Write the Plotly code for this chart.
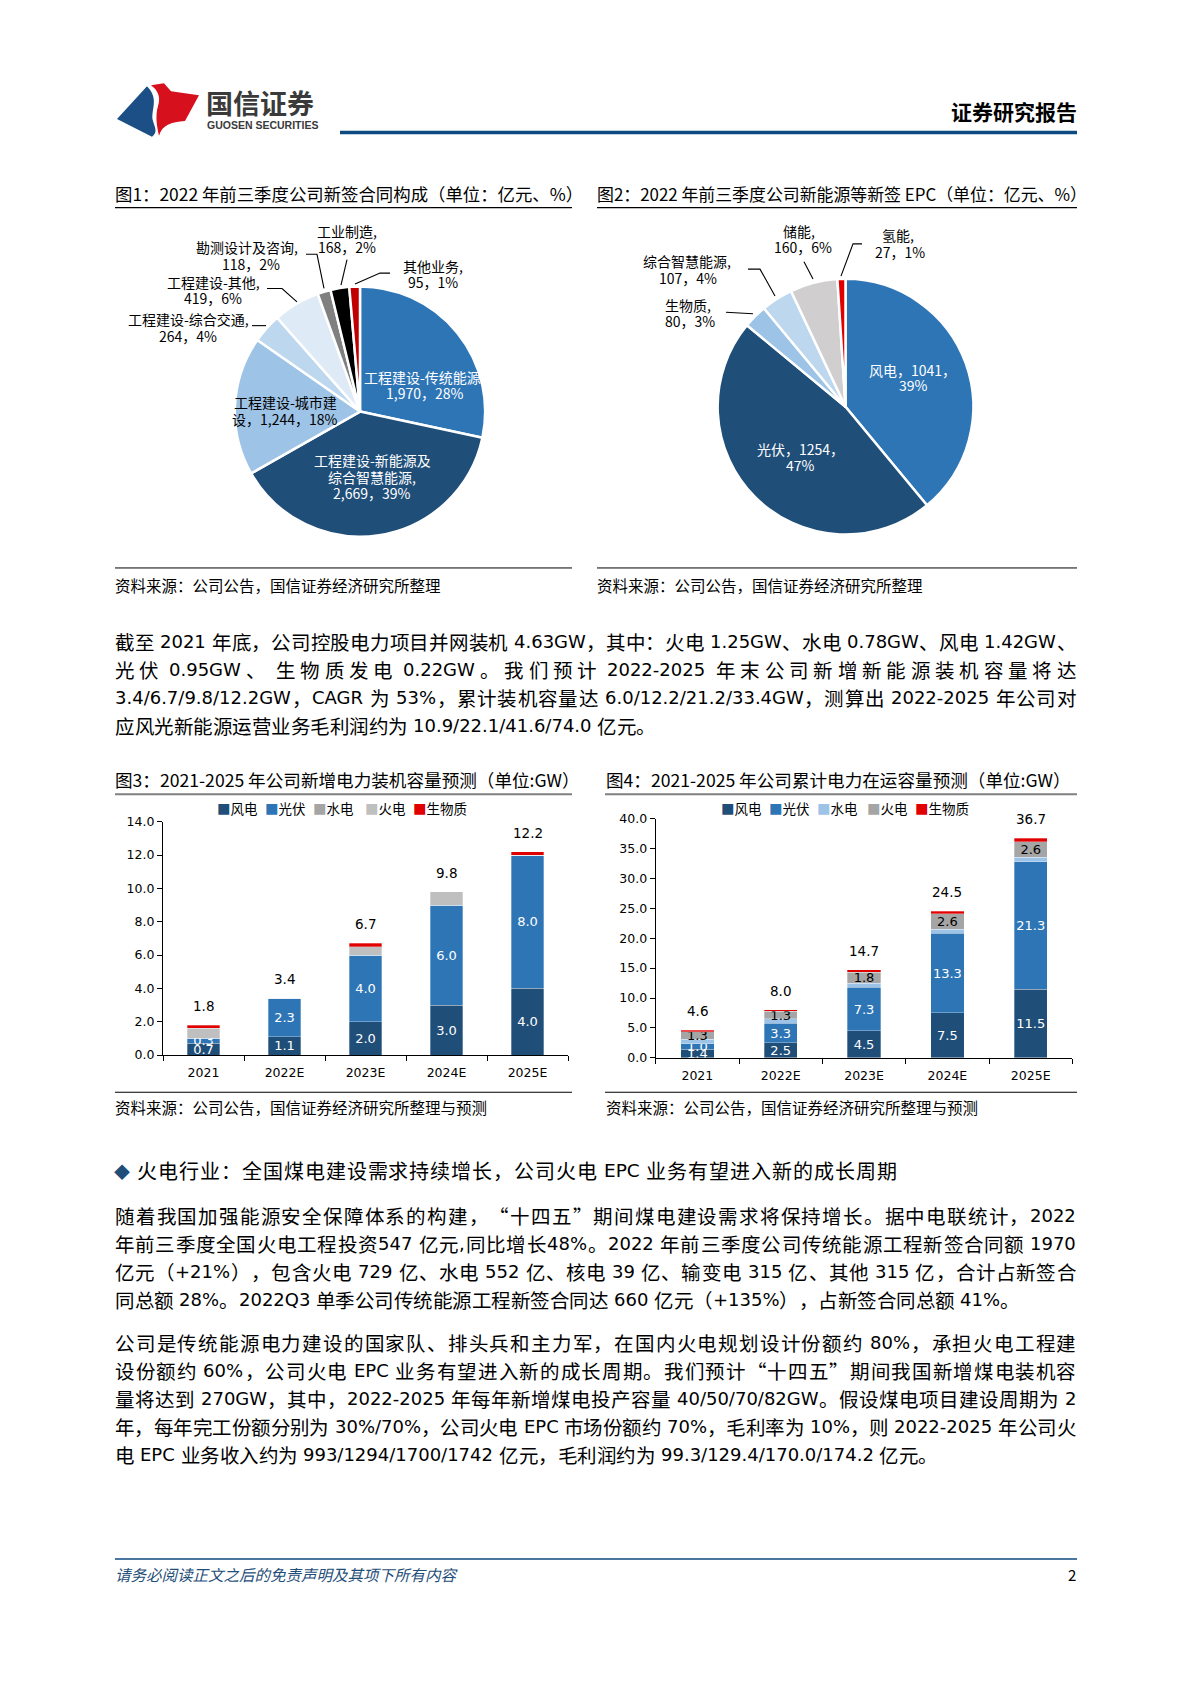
import plotly.graph_objects as go

W, H = 1190, 1683
FONT = "Noto Sans CJK SC"
LAT = "DejaVu Sans"

# ---------------- data ----------------
pie1_labels = ["工程建设-传统能源", "工程建设-新能源及综合智慧能源", "工程建设-城市建设",
               "工程建设-综合交通", "工程建设-其他", "勘测设计及咨询", "工业制造", "其他业务"]
pie1_values = [1970, 2669, 1244, 264, 419, 118, 168, 95]
pie1_pcts = [28, 39, 18, 4, 6, 2, 2, 1]
pie1_colors = ["#2e75b6", "#1f4e79", "#9dc3e6", "#bdd7ee", "#deebf7", "#808080", "#000000", "#c00000"]

pie2_labels = ["风电", "光伏", "生物质", "综合智慧能源", "储能", "氢能"]
pie2_values = [1041, 1254, 80, 107, 160, 27]
pie2_pcts = [39, 47, 3, 4, 6, 1]
pie2_colors = ["#2e75b6", "#1f4e79", "#9dc3e6", "#bdd7ee", "#d0cece", "#e00000"]

years = ["2021", "2022E", "2023E", "2024E", "2025E"]
series_names = ["风电", "光伏", "水电", "火电", "生物质"]

new_wind = [0.7, 1.1, 2.0, 3.0, 4.0]
new_pv = [0.3, 2.3, 4.0, 6.0, 8.0]
new_hydro = [0.0, 0.0, 0.0, 0.0, 0.0]
new_thermal = [0.6, 0.0, 0.5, 0.8, 0.0]
new_bio = [0.2, 0.0, 0.2, 0.0, 0.2]
new_total = [1.8, 3.4, 6.7, 9.8, 12.2]

cum_wind = [1.4, 2.5, 4.5, 7.5, 11.5]
cum_pv = [1.0, 3.3, 7.3, 13.3, 21.3]
cum_hydro = [0.7, 0.7, 0.7, 0.7, 0.7]
cum_thermal = [1.3, 1.3, 1.8, 2.6, 2.6]
cum_bio = [0.2, 0.2, 0.4, 0.4, 0.6]
cum_total = [4.6, 8.0, 14.7, 24.5, 36.7]

para1 = [
    "截至 2021 年底，公司控股电力项目并网装机 4.63GW，其中：火电 1.25GW、水电 0.78GW、风电 1.42GW、",
    "光伏 0.95GW、 生物质发电 0.22GW。我们预计 2022-2025 年末公司新增新能源装机容量将达",
    "3.4/6.7/9.8/12.2GW，CAGR 为 53%，累计装机容量达 6.0/12.2/21.2/33.4GW，测算出 2022-2025 年公司对",
    "应风光新能源运营业务毛利润约为 10.9/22.1/41.6/74.0 亿元。",
]
heading = "火电行业：全国煤电建设需求持续增长，公司火电 EPC 业务有望进入新的成长周期"
para2 = [
    "随着我国加强能源安全保障体系的构建，“十四五”期间煤电建设需求将保持增长。据中电联统计，2022",
    "年前三季度全国火电工程投资547 亿元,同比增长48%。2022 年前三季度公司传统能源工程新签合同额 1970",
    "亿元（+21%），包含火电 729 亿、水电 552 亿、核电 39 亿、输变电 315 亿、其他 315 亿，合计占新签合",
    "同总额 28%。2022Q3 单季公司传统能源工程新签合同达 660 亿元（+135%），占新签合同总额 41%。",
]
para3 = [
    "公司是传统能源电力建设的国家队、排头兵和主力军，在国内火电规划设计份额约 80%，承担火电工程建",
    "设份额约 60%，公司火电 EPC 业务有望进入新的成长周期。我们预计“十四五”期间我国新增煤电装机容",
    "量将达到 270GW，其中，2022-2025 年每年新增煤电投产容量 40/50/70/82GW。假设煤电项目建设周期为 2",
    "年，每年完工份额分别为 30%/70%，公司火电 EPC 市场份额约 70%，毛利率为 10%，则 2022-2025 年公司火",
    "电 EPC 业务收入约为 993/1294/1700/1742 亿元，毛利润约为 99.3/129.4/170.0/174.2 亿元。",
]

# ---------------- helpers ----------------
def px(x):
    return x / W


def py(y):
    return 1 - y / H


annotations = []
shapes = []


def txt(x, y, s, size=13, color="#000", xanchor="left", family=FONT, weight="normal"):
    annotations.append(dict(
        x=px(x), y=py(y), xref="paper", yref="paper", text=s, showarrow=False,
        xanchor=xanchor, yanchor="middle", align="center" if xanchor == "center" else xanchor,
        borderpad=0, borderwidth=0,
        font=dict(size=size, color=color, family=family, weight=weight)))


def hline(x0, x1, y, color="#000", width=1.0):
    shapes.append(dict(type="line", xref="paper", yref="paper", x0=px(x0), x1=px(x1),
                       y0=py(y), y1=py(y), line=dict(color=color, width=width)))


def P(x, y):
    return f"{px(x):.5f},{py(y):.5f}"


def polyline(points, color="#000", width=1.1):
    path = "M " + " L ".join(P(a, b) for a, b in points)
    shapes.append(dict(type="path", path=path, xref="paper", yref="paper",
                       line=dict(color=color, width=width)))


def fillpath(d, color):
    shapes.append(dict(type="path", path=d, xref="paper", yref="paper",
                       fillcolor=color, line=dict(width=0)))


# approximate advance widths (em) of DejaVu Sans glyphs
LAT_W = {".": 0.318, ",": 0.318, "/": 0.337, "-": 0.361, "%": 0.95, "+": 0.838, "(": 0.39, ")": 0.39,
         "G": 0.776, "W": 0.989, "C": 0.698, "A": 0.684, "R": 0.695, "E": 0.632, "P": 0.603, "Q": 0.787}
SPACE_W = 0.318


def tokens_of(line):
    toks = []
    i, pend = 0, 0.0
    while i < len(line):
        ch = line[i]
        if ch == " ":
            pend += SPACE_W
            i += 1
            continue
        if ord(ch) < 128:
            j = i
            while j < len(line) and ord(line[j]) < 128 and line[j] != " ":
                j += 1
            run = line[i:j]
            w = sum(0.636 if c.isdigit() else LAT_W.get(c, 0.62) for c in run)
            toks.append((run, True, w, pend))
            i = j
        else:
            toks.append((ch, False, 1.0, pend))
            i += 1
        pend = 0.0
    return toks


def text_line(x0, y, line, fs=19.5, fl=18, target=None, color="#000"):
    toks = tokens_of(line)
    nat = sum((w * fl if lat else fs) + sp * fl for _, lat, w, sp in toks)
    gap = 0.0
    if target is not None and len(toks) > 1:
        gap = (target - nat) / (len(toks) - 1)
    x = x0
    for s, lat, w, sp in toks:
        x += sp * fl
        txt(x, y, s, size=fl if lat else fs, family=LAT if lat else FONT, color=color)
        x += (w * fl if lat else fs) + gap


fig = go.Figure()

# ---------------- header ----------------
fillpath(f"M {P(117,112)} L {P(147,79)} C {P(160,92)} {P(150,104)} {P(153,114)} "
         f"C {P(155,121)} {P(158,125)} {P(152,130)} Z", "#1b4f86")
fillpath(f"M {P(151,78)} L {P(164,76)} L {P(171,84)} L {P(199,88)} L {P(185,114)} "
         f"C {P(171,115)} {P(162,118)} {P(159,129)} C {P(157,120)} {P(155,110)} {P(158,99)} "
         f"C {P(161,90)} {P(158,83)} {P(151,78)} Z", "#d7101e")
txt(206, 95, "国信证券", size=27, color="#3a3a3a", weight="bold")
txt(207, 118, "GUOSEN SECURITIES", size=10.5, color="#3a3a3a", family="Liberation Sans", weight="bold")
txt(1077, 104, "证券研究报告", size=21, color="#000", xanchor="right", weight="bold")
hline(340, 1077, 125.5, color="#0d4a80", width=3.5)

# ---------------- figure titles (pies) ----------------
txt(115, 187.5, "图1：2022 年前三季度公司新签合同构成（单位：亿元、%）", size=17.4)
hline(115, 572, 201.5, width=1.3)
txt(597, 187.5, "图2：2022 年前三季度公司新能源等新签 EPC（单位：亿元、%）", size=16.9)
hline(597, 1077, 201.5, width=1.3)

# ---------------- pies ----------------
c1x, c1y, r1 = 360.0, 407.2, 126.3
fig.add_trace(go.Pie(
    labels=pie1_labels, values=pie1_values, sort=False, direction="clockwise", rotation=0,
    textinfo="none", hoverinfo="label+value", showlegend=False,
    marker=dict(colors=pie1_colors, line=dict(color="white", width=2.5)),
    domain=dict(x=[px(c1x - r1), px(c1x + r1)], y=[py(c1y + r1), py(c1y - r1)])))

c2x, c2y, r2 = 845.5, 402.3, 129.0
fig.add_trace(go.Pie(
    labels=pie2_labels, values=pie2_values, sort=False, direction="clockwise", rotation=0,
    textinfo="none", hoverinfo="label+value", showlegend=False,
    marker=dict(colors=pie2_colors, line=dict(color="white", width=2.5)),
    domain=dict(x=[px(c2x - r2), px(c2x + r2)], y=[py(c2y + r2), py(c2y - r2)])))


def v1(i):
    return f"{pie1_values[i]:,}，{pie1_pcts[i]}%"


def v2(i):
    return f"{pie2_values[i]}，{pie2_pcts[i]}%"


LF = 14
# pie 1 inside labels
txt(424, 372, pie1_labels[0] + ",", size=LF, color="white", xanchor="center")
txt(425, 388, v1(0), size=LF, color="white", xanchor="center")
txt(285, 398, pie1_labels[2][:8], size=LF, color="#000", xanchor="center")
txt(285, 415, pie1_labels[2][8:] + "，" + v1(2), size=LF, color="#000", xanchor="center")
txt(372, 456.5, pie1_labels[1][:9], size=LF, color="white", xanchor="center")
txt(372, 473, pie1_labels[1][9:] + ",", size=LF, color="white", xanchor="center")
txt(372, 489, v1(1), size=LF, color="white", xanchor="center")
# pie 1 outside labels
txt(347, 225.5, pie1_labels[6] + ",", size=LF, xanchor="center")
txt(347, 241.5, v1(6), size=LF, xanchor="center")
txt(247, 241.5, pie1_labels[5] + ",", size=LF, xanchor="center")
txt(251, 258.5, v1(5), size=LF, xanchor="center")
txt(213, 276.5, pie1_labels[4] + ",", size=LF, xanchor="center")
txt(213, 292.5, v1(4), size=LF, xanchor="center")
txt(188, 314, pie1_labels[3] + ",", size=LF, xanchor="center")
txt(188, 330.5, v1(3), size=LF, xanchor="center")
txt(433, 260, pie1_labels[7] + ",", size=LF, xanchor="center")
txt(433, 276.5, v1(7), size=LF, xanchor="center")
polyline([(306, 248.5), (317, 248.5), (324, 283)])
polyline([(347, 254), (341, 279.5)])
polyline([(390, 267.5), (380, 267.5), (355, 278.5)])
polyline([(267, 283), (282, 283), (297, 296.5)])
polyline([(252, 320.5), (266, 320.5)])

# pie 2 inside labels
txt(912, 365.5, pie2_labels[0] + "，" + str(pie2_values[0]) + "，", size=LF, color="white", xanchor="center")
txt(913, 380.5, f"{pie2_pcts[0]}%", size=LF, color="white", xanchor="center")
txt(800, 444.5, pie2_labels[1] + "，" + str(pie2_values[1]) + "，", size=LF, color="white", xanchor="center")
txt(800, 461, f"{pie2_pcts[1]}%", size=LF, color="white", xanchor="center")
# pie 2 outside labels
txt(799, 225.5, pie2_labels[4] + ",", size=LF, xanchor="center")
txt(803, 241.5, v2(4), size=LF, xanchor="center")
txt(898, 229.5, pie2_labels[5] + ",", size=LF, xanchor="center")
txt(900, 246, v2(5), size=LF, xanchor="center")
txt(687, 255.5, pie2_labels[3] + ",", size=LF, xanchor="center")
txt(688, 272, v2(3), size=LF, xanchor="center")
txt(688, 300, pie2_labels[2] + ",", size=LF, xanchor="center")
txt(690, 315.5, v2(2), size=LF, xanchor="center")
polyline([(804, 256), (813, 273.5)])
polyline([(862, 238), (853, 238), (841, 270.5)])
polyline([(748, 263.5), (760, 263.5), (775, 290.5)])
polyline([(726, 307), (753, 308.5)])

hline(115, 572, 565, width=1.0)
hline(597, 1077, 565, width=1.0)
txt(115, 582.5, "资料来源：公司公告，国信证券经济研究所整理", size=15.5)
txt(597, 582.5, "资料来源：公司公告，国信证券经济研究所整理", size=15.5)

# ---------------- paragraph 1 ----------------
LINE_H = 28.2
TARGET = 1076 - 115
for i, s in enumerate(para1):
    text_line(115, 639 + i * LINE_H, s, target=TARGET if i < len(para1) - 1 else None)

# ---------------- bar charts ----------------
txt(115, 778, "图3：2021-2025 年公司新增电力装机容量预测（单位:GW）", size=17.6)
hline(115, 572, 793.2, color="#808080", width=2)
txt(606, 778, "图4：2021-2025 年公司累计电力在运容量预测（单位:GW）", size=17.6)
hline(605, 1077, 793.2, color="#808080", width=2)

colors3 = ["#1f4e79", "#2e75b6", "#a5a5a5", "#bfbfbf", "#e00000"]
colors4 = ["#1f4e79", "#2e75b6", "#9dc3e6", "#a5a5a5", "#e00000"]
show3 = [True, True, False, False, False]
show4 = [True, True, False, True, False]
tcol4 = ["white", "white", "white", "#000", "white"]
BAR_LINE = dict(color="rgba(255,255,255,0.5)", width=0.6)

for name, vals, col, show in zip(series_names, [new_wind, new_pv, new_hydro, new_thermal, new_bio],
                                 colors3, show3):
    fig.add_trace(go.Bar(
        x=years, y=vals, name=name, marker=dict(color=col, line=BAR_LINE),
        xaxis="x", yaxis="y", showlegend=False,
        texttemplate="%{y:.1f}" if show else None, textposition="inside" if show else "none",
        insidetextanchor="middle", textangle=0,
        textfont=dict(color="white", size=13, family=LAT)))

for name, vals, col, show, tc in zip(series_names, [cum_wind, cum_pv, cum_hydro, cum_thermal, cum_bio],
                                     colors4, show4, tcol4):
    fig.add_trace(go.Bar(
        x=years, y=vals, name=name, marker=dict(color=col, line=BAR_LINE),
        xaxis="x2", yaxis="y2", showlegend=False,
        texttemplate="%{y:.1f}" if show else None, textposition="inside" if show else "none",
        insidetextanchor="middle", textangle=0,
        textfont=dict(color=tc, size=13, family=LAT)))

# totals above stacks (x given as category index)
for i, t in enumerate(new_total):
    annotations.append(dict(x=i, y=t, xref="x", yref="y", text=f"{t:.1f}", showarrow=False,
                            yshift=19, font=dict(size=13.5, color="#000", family=LAT)))
for i, t in enumerate(cum_total):
    annotations.append(dict(x=i, y=t, xref="x2", yref="y2", text=f"{t:.1f}", showarrow=False,
                            yshift=19, font=dict(size=13.5, color="#000", family=LAT)))

# legends
leg3_x = [216.7, 265, 313, 365, 413.3]
leg4_x = [721, 769.3, 817.3, 867.3, 914.6]
for xs, cols in ((leg3_x, colors3), (leg4_x, colors4)):
    for x, n, c in zip(xs, series_names, cols):
        txt(x, 807.5, f"<span style='color:{c}'>■</span>{n}", size=13.5)

axis_common = dict(showline=True, linecolor="#000", linewidth=1.2, ticks="outside", ticklen=5,
                   tickcolor="#000", showgrid=False, zeroline=False, fixedrange=True,
                   tickfont=dict(size=12.5, color="#000", family=LAT))

fig.update_layout(
    xaxis=dict(domain=[px(163), px(568)], anchor="y", type="category", tickson="boundaries",
               range=[-0.5, 4.5], ticklabelstandoff=6, **axis_common),
    yaxis=dict(domain=[py(1056.5), py(821)], anchor="x", range=[0, 14], dtick=2, tickformat=".1f",
               **axis_common),
    xaxis2=dict(domain=[px(655.7), px(1072.4)], anchor="y2", type="category", tickson="boundaries",
                range=[-0.5, 4.5], ticklabelstandoff=6, **axis_common),
    yaxis2=dict(domain=[py(1059.3), py(817.8)], anchor="x2", range=[0, 40], dtick=5, tickformat=".1f",
                **axis_common),
)

hline(115, 572, 1094, width=1.2)
hline(605, 1077, 1094, width=1.2)
txt(115, 1109, "资料来源：公司公告，国信证券经济研究所整理与预测", size=15.5)
txt(606, 1109, "资料来源：公司公告，国信证券经济研究所整理与预测", size=15.5)

# ---------------- heading & paragraphs ----------------
txt(114, 1173, "◆", size=16, color="#1f4e79")
text_line(137, 1173, heading, fs=20, fl=18.5, target=897 - 137)
for i, s in enumerate(para2):
    text_line(115, 1218.8 + i * LINE_H, s, target=TARGET if i < len(para2) - 1 else None)
for i, s in enumerate(para3):
    text_line(115, 1346.9 + i * LINE_H, s, target=TARGET if i < len(para3) - 1 else None)

# ---------------- footer ----------------
hline(115, 1077, 1565, color="#0d4a80", width=1.5)
txt(115, 1580.5, "<i>请务必阅读正文之后的免责声明及其项下所有内容</i>", size=15.5, color="#1f4e79")
txt(1076, 1581, "2", size=15, xanchor="right")

fig.update_layout(
    width=W, height=H, margin=dict(l=0, r=0, t=0, b=0, pad=0),
    paper_bgcolor="white", plot_bgcolor="white",
    barmode="stack", bargap=0.6,
    uniformtext=dict(mode="show", minsize=13),
    annotations=annotations, shapes=shapes,
    font=dict(family=FONT, color="#000"),
)

fig.write_html("out.html", config={"displayModeBar": False},
               post_script="document.body.style.margin='0';")
